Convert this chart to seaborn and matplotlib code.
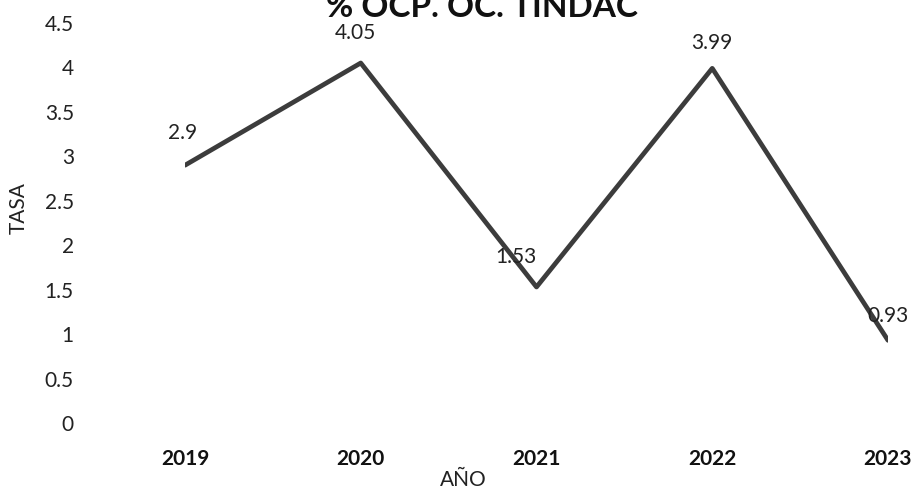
import matplotlib
matplotlib.use("Agg")
import matplotlib.pyplot as plt
import seaborn as sns
import pandas as pd

years = [2019, 2020, 2021, 2022, 2023]
tasa = [2.9, 4.05, 1.53, 3.99, 0.93]
yticks = [0, 0.5, 1, 1.5, 2, 2.5, 3, 3.5, 4, 4.5]
ytick_labels = ["0", "0.5", "1", "1.5", "2", "2.5", "3", "3.5", "4", "4.5"]
title = "% OCP. OC. TINDAC"

sns.set_style("white")
plt.rcParams['font.family'] = ['Lato', 'DejaVu Sans']

df = pd.DataFrame({"AÑO": years, "TASA": tasa})

fig = plt.figure(figsize=(9.14, 4.93), dpi=100)
ax = fig.add_axes([185/914, 1-423/493, (888-185)/914, (423-23)/493])
sns.lineplot(data=df, x="AÑO", y="TASA", ax=ax, color="#3c3c3c", linewidth=3.4)

ax.set_xlim(2019, 2023)
ax.set_ylim(0, 4.5)
ax.set_yticks(yticks)
ax.set_yticklabels(ytick_labels, fontsize=15, color="#222222")
ax.set_xticks(years)
ax.set_xticklabels([str(y) for y in years], fontsize=15, fontweight="bold", color="#111111")
ax.tick_params(axis="y", length=0, pad=80)
ax.tick_params(axis="x", length=0, pad=19)
for s in ax.spines.values():
    s.set_visible(False)

ax.set_ylabel("TASA", fontsize=15, color="#222222", va="center")
ax.yaxis.set_label_coords((19-185)/703, (423-208)/400)
ax.set_xlabel("AÑO", fontsize=15, color="#222222", va="center")
ax.xaxis.set_label_coords((463-185)/703, (423-480)/400)

offsets = [(-2, 19), (-4, 17), (-15, 17), (0, 14), (0, 13)]
for x, y, off in zip(years, tasa, offsets):
    ax.annotate(f"{y:g}", (x, y), xytext=off, textcoords="offset points",
                ha="center", va="baseline", fontsize=15, color="#222222")

fig.text(482/914, 1-17/493, title, ha="center", va="baseline",
         fontsize=24, fontweight="bold", color="#111111")

fig.savefig("out.png", dpi=100)
